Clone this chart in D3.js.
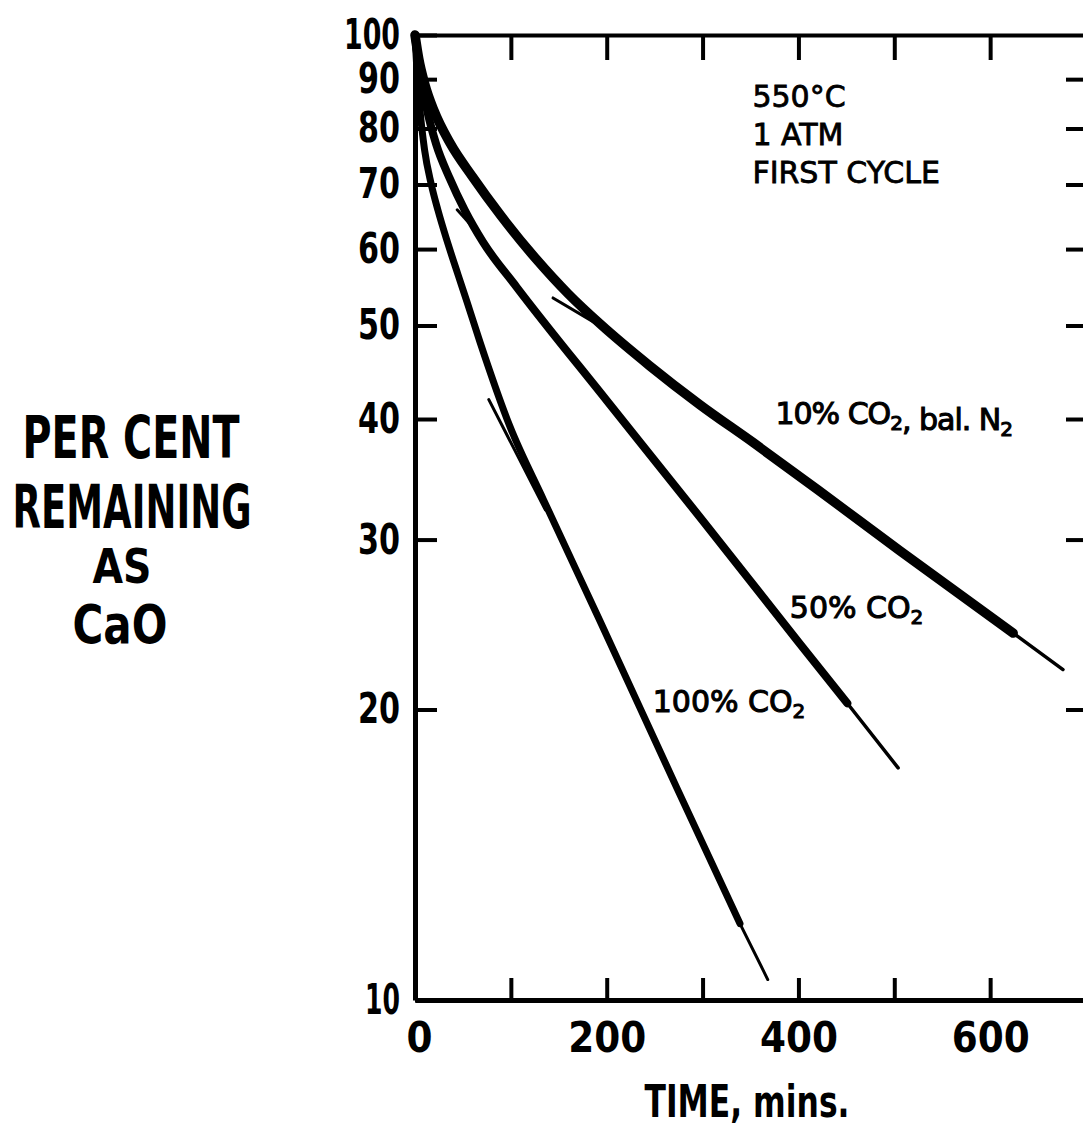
<!DOCTYPE html>
<html>
<head>
<meta charset="utf-8">
<script src="https://cdn.jsdelivr.net/npm/d3@7"></script>
<style>
  body { margin: 0; background: #fff; }
  svg { display: block; }
</style>
</head>
<body>
<svg id="chart"></svg>
<script>
const width = 1083, height = 1139;

// Curves: [minutes, per cent remaining as CaO]
const tenCO2 = [[0, 100], [4, 94.4], [10, 89.1], [20, 83.4], [36.5, 77.3], [60, 71.3], [90, 64.9], [127, 58.5], [160, 53.9], [193, 50.2], [245, 45.4], [297, 41.4], [353, 37.8], [420, 33.8], [506, 29.2], [624, 24.0]];
const tenTail = [[624, 24.0], [676, 22.0]];

const fiftyCO2 = [[0, 100], [5, 91.6], [12, 84.1], [22, 77.1], [36, 71.1], [52, 65.8], [71, 61.0], [106, 54.8], [200, 41.8], [300, 31.4], [400, 23.5], [451, 20.3]];
const fiftyTail = [[451, 20.3], [504, 17.4]];

const hundredCO2 = [[0, 100], [2, 92], [5, 84], [10, 76], [17, 70], [24, 65.8], [31, 62.3], [45, 56.4], [54, 53], [68, 48], [99, 39.3], [134, 33.0], [193, 24.7], [273, 16.6], [339, 12.0]];
const hundredTail = [[339, 12.0], [368, 10.5]];

// short straight fits drawn beside the curves
const tangent10 = [[144, 53.4], [191, 50.1]];
const tangent50 = [[44, 65.9], [70, 61.7]];
const tangent100 = [[77, 41.9], [136, 32.2]];

const yTicks = [10, 20, 30, 40, 50, 60, 70, 80, 90, 100];
const xTicks = [0, 100, 200, 300, 400, 500, 600];
const xLabels = [0, 200, 400, 600];
const yTitle = ["PER CENT", "REMAINING", "AS", "CaO"];
const notes = ["550°C", "1 ATM", "FIRST CYCLE"];

const svg = d3.select("#chart")
    .attr("width", width)
    .attr("height", height)
    .attr("viewBox", [0, 0, width, height]);

const x = d3.scaleLinear().domain([0, 700]).range([415, 1086]);
const y = d3.scaleLog().domain([10, 100]).range([1000, 35]);

const font = "'DejaVu Sans', sans-serif";

function styleAxis(g) {
    g.select(".domain").attr("stroke", "#000").attr("stroke-width", 5);
    g.selectAll(".tick line").attr("stroke", "#000").attr("stroke-width", 4);
    g.selectAll(".tick text")
        .attr("fill", "#000")
        .style("font-family", font)
        .style("font-weight", "bold")
        .style("font-size", "42px");
}

// left axis
const leftAxis = svg.append("g")
    .attr("transform", `translate(${x(0)},0)`)
    .call(d3.axisLeft(y).tickValues(yTicks).tickSizeInner(-22).tickSizeOuter(0)
        .tickPadding(15).tickFormat(d3.format("d")));
styleAxis(leftAxis);
leftAxis.selectAll(".tick text")
    .attr("textLength", d => [...String(d)].reduce((w, c) => w + (c === "1" ? 14 : 21), 0))
    .attr("lengthAdjust", "spacingAndGlyphs");

// bottom axis
const bottomAxis = svg.append("g")
    .attr("transform", `translate(0,${y(10)})`)
    .call(d3.axisBottom(x).tickValues(xTicks).tickSizeInner(-22).tickSizeOuter(0)
        .tickPadding(22).tickFormat(d => xLabels.includes(d) ? d : ""));
styleAxis(bottomAxis);
bottomAxis.selectAll(".tick text")
    .filter(d => xLabels.includes(d))
    .attr("x", d => d === 0 ? 4 : 0)
    .attr("textLength", d => String(d).length * 26)
    .attr("lengthAdjust", "spacingAndGlyphs");

// top frame with ticks
const topAxis = svg.append("g")
    .attr("transform", `translate(0,${y(100)})`)
    .call(d3.axisTop(x).tickValues(xTicks.filter(d => d > 0)).tickSizeInner(-25).tickSizeOuter(0).tickFormat(""));
styleAxis(topAxis);
topAxis.select(".domain").attr("stroke-width", 4);

// right frame with ticks (frame line sits just past the page edge)
const rightAxis = svg.append("g")
    .attr("transform", `translate(${x(700)},0)`)
    .call(d3.axisRight(y).tickValues(yTicks.slice(1, -1)).tickSizeInner(-20).tickSizeOuter(0).tickFormat(""));
styleAxis(rightAxis);

// curves
const line = d3.line()
    .x(d => x(d[0]))
    .y(d => y(d[1]))
    .curve(d3.curveMonotoneX);

const series = [
    { data: tenCO2, w: 9.5 },
    { data: tenTail, w: 3.5 },
    { data: fiftyCO2, w: 8 },
    { data: fiftyTail, w: 3.5 },
    { data: hundredCO2, w: 7 },
    { data: hundredTail, w: 3 },
    { data: tangent10, w: 3 },
    { data: tangent50, w: 3 },
    { data: tangent100, w: 3 }
];

svg.append("g")
    .selectAll("path")
    .data(series)
    .join("path")
    .attr("d", d => line(d.data))
    .attr("fill", "none")
    .attr("stroke", "#000")
    .attr("stroke-width", d => d.w)
    .attr("stroke-linecap", "round")
    .attr("stroke-linejoin", "round");

// curve labels with subscripts
function curveLabel(parts, t, v, spacing) {
    const txt = svg.append("text")
        .attr("x", x(t))
        .attr("y", y(v))
        .attr("fill", "#000")
        .attr("stroke", "#000")
        .attr("stroke-width", 1.1)
        .style("letter-spacing", spacing + "px")
        .style("font-family", font)
        .style("font-size", "30px");
    parts.forEach(([s, sub]) => {
        txt.append("tspan")
            .attr("dy", sub ? 6 : 0)
            .style("font-size", sub ? "20px" : "30px")
            .text(s);
        if (sub) txt.append("tspan").attr("dy", -6).text("");
    });
}

curveLabel([["10% CO", false], ["2", true], [", bal. N", false], ["2", true]], 376, 39.5, -1);
curveLabel([["50% CO", false], ["2", true]], 391, 24.9, 0);
curveLabel([["100% CO", false], ["2", true]], 248, 19.9, 0);

// conditions note
svg.append("g")
    .selectAll("text")
    .data(notes)
    .join("text")
    .attr("x", x(352))
    .attr("y", (d, i) => 107 + i * 38)
    .attr("fill", "#000")
    .attr("stroke", "#000")
    .attr("stroke-width", 0.8)
    .style("font-family", font)
    .style("font-size", "30px")
    .text(d => d);

// y title
const titleX = [131, 132, 122, 120];
const titleY = [458, 528, 583, 643];
const titleW = [217, 239, 59, 95];
const titleSize = [58, 60, 48, 54];
svg.append("g")
    .selectAll("text")
    .data(yTitle)
    .join("text")
    .attr("x", (d, i) => titleX[i])
    .attr("y", (d, i) => titleY[i])
    .attr("text-anchor", "middle")
    .attr("textLength", (d, i) => titleW[i])
    .attr("lengthAdjust", "spacingAndGlyphs")
    .attr("fill", "#000")
    .style("font-family", font)
    .style("font-weight", "bold")
    .style("font-size", (d, i) => titleSize[i] + "px")
    .text(d => d);

// x title
svg.append("text")
    .attr("x", 747)
    .attr("y", 1117)
    .attr("text-anchor", "middle")
    .attr("textLength", 205)
    .attr("lengthAdjust", "spacingAndGlyphs")
    .attr("fill", "#000")
    .style("font-family", font)
    .style("font-weight", "bold")
    .style("font-size", "44px")
    .text("TIME, mins.");
</script>
</body>
</html>
